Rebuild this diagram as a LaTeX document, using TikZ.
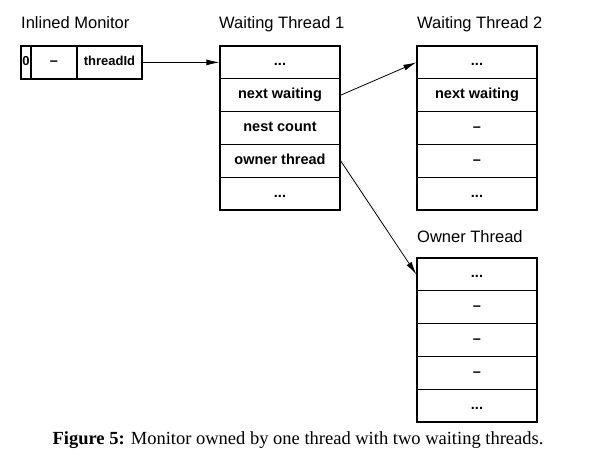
\documentclass[tikz,border=0pt]{standalone}
\usepackage{fontspec}
\setmainfont{Liberation Serif}
\newfontfamily\arialf[Ligatures=TeX]{Liberation Sans}
\usetikzlibrary{arrows.meta}
\tikzset{
  cell/.style={draw, line width=1.3pt, minimum height=32.8pt, inner sep=0pt,
    text height=10pt, text depth=3pt,
    font=\arialf\bfseries\fontsize{14.5}{16}\selectfont},
  wide/.style={cell, minimum width=120pt},
  title/.style={anchor=base west, inner sep=0pt, font=\arialf\fontsize{16.5}{19}\selectfont},
  link/.style={line width=0.8pt, -{Latex[length=13pt,width=6pt]}},
}
\begin{document}
\begin{tikzpicture}[x=1pt,y=-1pt]
\useasboundingbox (0,0) rectangle (599,470);
% titles
\node[title] (t1) at (21,29) {Inlined Monitor};
\node[title] (t2) at (219,29) {Waiting Thread 1};
\node[title] (t3) at (417,29) {Waiting Thread 2};
\node[title] (t4) at (417,243) {Owner Thread};
% inlined monitor
\node[cell, minimum width=10pt, font=\arialf\bfseries\fontsize{13}{15}\selectfont] (m1) at (26,62.5) {0};
\node[cell, minimum width=46pt] (m2) at (54,62.5) {\textendash};
\node[cell, minimum width=65pt, font=\arialf\bfseries\fontsize{13}{15}\selectfont] (m3) at (109.5,62.5) {threadId};
% waiting thread 1
\node[wide] (a1) at (280,62.4) {...};
\node[wide] (a2) at (280,95.2) {next waiting};
\node[wide] (a3) at (280,128) {nest count};
\node[wide] (a4) at (280,160.8) {owner thread};
\node[wide] (a5) at (280,193.6) {...};
% waiting thread 2
\node[wide] (b1) at (477,62.4) {...};
\node[wide] (b2) at (477,95.2) {next waiting};
\node[wide] (b3) at (477,128) {\textendash};
\node[wide] (b4) at (477,160.8) {\textendash};
\node[wide] (b5) at (477,193.6) {...};
% owner thread
\node[wide] (c1) at (477,274.4) {...};
\node[wide] (c2) at (477,307.2) {\textendash};
\node[wide] (c3) at (477,340) {\textendash};
\node[wide] (c4) at (477,372.8) {\textendash};
\node[wide] (c5) at (477,405.6) {...};
% connectors
\draw[link] (m3.east) -- (a1.west);
\draw[link] (a2.east) -- (b1.west);
\draw[link] (a4.east) -- (c1.west);
% caption
\node[inner sep=0pt, anchor=base, font=\fontsize{18.5}{21}\selectfont] (cap) at (298,444)
  {\textbf{Figure 5:} Monitor owned by one thread with two waiting threads.};
\end{tikzpicture}
\end{document}
